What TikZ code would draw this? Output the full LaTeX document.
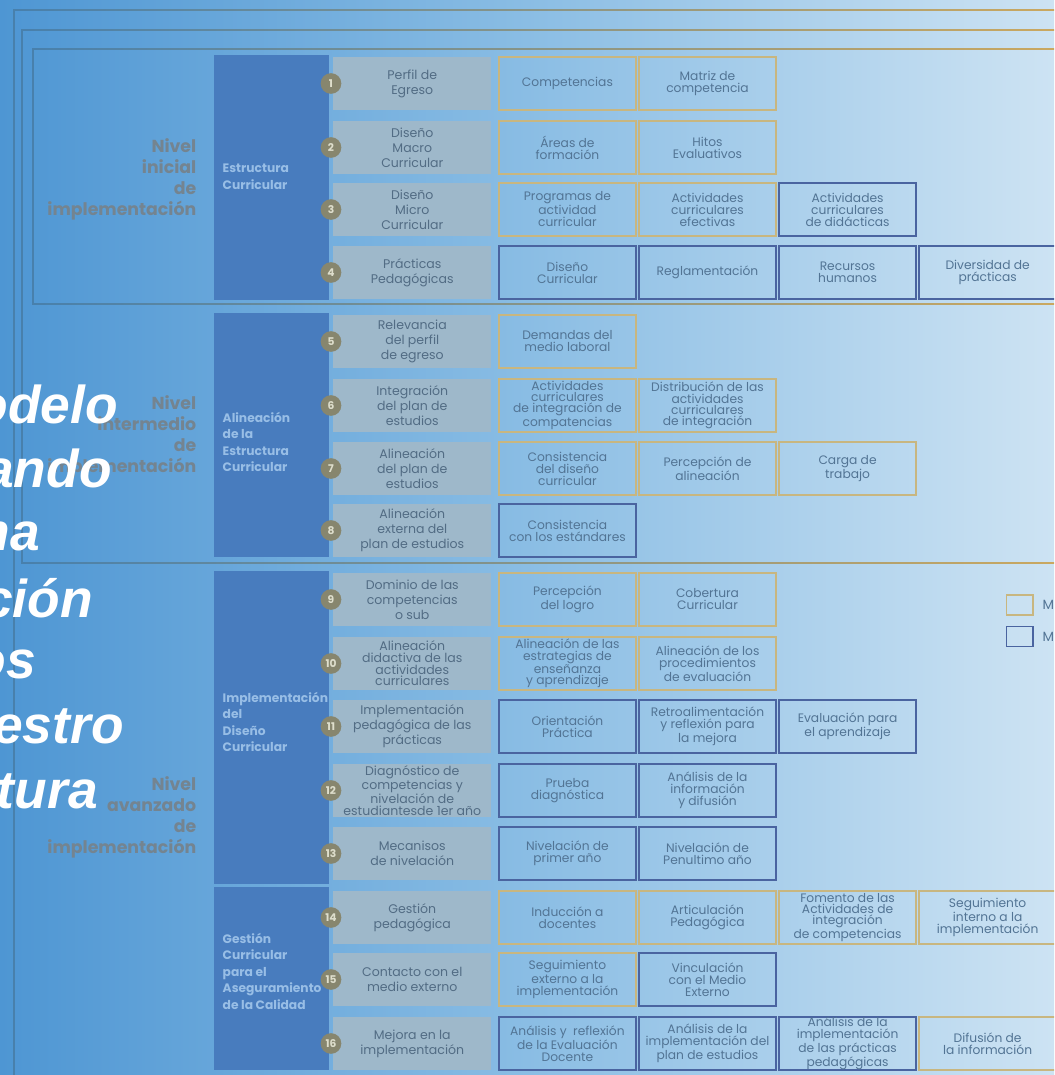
\documentclass[tikz,border=0pt]{standalone}
\usepackage{fontspec}
\setmainfont{Poppins}
\newfontfamily\titlefont{Liberation Sans}
\usetikzlibrary{positioning}
\definecolor{bgleft}{RGB}{78,150,211}
\definecolor{bgmid}{RGB}{138,189,228}
\definecolor{bgright}{RGB}{205,227,243}
\definecolor{catblue}{RGB}{72,124,190}
\definecolor{itemgray}{RGB}{158,184,202}
\definecolor{itemtext}{RGB}{82,108,132}
\definecolor{boxtext}{RGB}{82,116,148}
\definecolor{tanline}{RGB}{200,182,128}
\definecolor{blueline}{RGB}{74,100,160}
\definecolor{levelgray}{RGB}{116,132,144}
\definecolor{catlabel}{RGB}{152,190,230}
\definecolor{numfill}{RGB}{135,134,110}
\definecolor{numtext}{RGB}{222,222,204}
\definecolor{frameleft}{RGB}{72,128,172}
\definecolor{framegold}{RGB}{202,168,96}
\tikzstyle{item} = [rectangle,fill=itemgray,text=itemtext,align=center,anchor=west,minimum width=118.5pt,minimum height=39.75pt,inner sep=0pt,font=\fontsize{9.4}{11.25}\selectfont]
\tikzstyle{itemtight} = [item,font=\fontsize{9.4}{8.7}\selectfont]
\tikzstyle{numdot} = [circle,fill=numfill,text=numtext,minimum size=15.5pt,inner sep=0pt,font=\bfseries\fontsize{8}{8}\selectfont]
\tikzstyle{indbox} = [rectangle,line width=1.1pt,text=boxtext,align=center,minimum width=102.75pt,minimum height=39.75pt,inner sep=0pt,font=\fontsize{9.2}{9}\selectfont]
\tikzstyle{indtan} = [indbox,draw=tanline]
\tikzstyle{indblue} = [indbox,draw=blueline]
\tikzstyle{fourlines} = [font=\fontsize{9.2}{8.5}\selectfont]
\tikzstyle{level} = [anchor=east,align=right,text=levelgray,font=\bfseries\fontsize{13}{15.75}\selectfont]
\tikzstyle{catname} = [anchor=west,align=left,text=catlabel,font=\bfseries\fontsize{9.2}{12.4}\selectfont]
\tikzstyle{titleword} = [anchor=base east,text=white,inner sep=0pt,font=\titlefont\fontsize{40}{48}\selectfont\bfseries\itshape]
\tikzstyle{frameline} = [left color=frameleft,right color=framegold]

\begin{document}
\begin{tikzpicture}[x=0.75pt,y=-0.75pt]
  \useasboundingbox (0,0) rectangle (1054,1075);
  \clip (0,0) rectangle (1054,1075);
  \shade[left color=bgleft,right color=bgright,middle color=bgmid] (0,0) rectangle (1054,1075);
  % nested frames of the levels
  \shade[frameline] (14,9.2) rectangle (1054,10.8);
  \fill[frameleft] (13.2,9.2) rectangle (14.8,1075);
  \shade[frameline] (22,29.2) rectangle (1054,30.8);
  \fill[frameleft] (21.2,29.2) rectangle (22.8,563.8);
  \shade[frameline] (22,562.2) rectangle (1054,563.8);
  \shade[frameline] (33,48.2) rectangle (1054,49.8);
  \fill[frameleft] (32.2,48.2) rectangle (33.8,304.8);
  \shade[frameline] (33,303.2) rectangle (1054,304.8);
  % columns
  \fill[catblue] (214,55) rectangle (329,300);
  \fill[catblue] (214,313) rectangle (329,557);
  \fill[catblue] (214,571) rectangle (329,884);
  \fill[catblue] (214,887) rectangle (329,1070);
  \node[catname] (cat1) at (218,177) {Estructura\\Curricular};
  \node[catname] (cat2) at (218,442) {Alineación\\de la\\Estructura\\Curricular};
  \node[catname] (cat3) at (218,722) {Implementación\\del\\Diseño\\Curricular};
  \node[catname] (cat4) at (218,971) {Gestión\\Curricular\\para el\\Aseguramiento\\de la Calidad};
  \node[level] (lvl1) at (201,179) {Nivel\\inicial\\de\\implementación};
  \node[level] (lvl2) at (201,436) {Nivel\\intermedio\\de\\implementación};
  \node[level] (lvl3) at (201,817) {Nivel\\avanzado\\de\\implementación};

  % items
  \node[item] (i1) at (333,83.5) {Perfil de\\Egreso};
  \node[item] (i2) at (333,147.5) {Diseño\\Macro\\Curricular};
  \node[item] (i3) at (333,209.5) {Diseño\\Micro\\Curricular};
  \node[item] (i4) at (333,272.5) {Prácticas\\Pedagógicas};
  \node[item] (i5) at (333,341.5) {Relevancia\\del perfil\\de egreso};
  \node[item] (i6) at (333,405.5) {Integración\\del plan de\\estudios};
  \node[item] (i7) at (333,468.5) {Alineación\\del plan de\\estudios};
  \node[item] (i8) at (333,530.5) {Alineación\\externa del\\plan de estudios};
  \node[item] (i9) at (333,599.5) {Dominio de las\\competencias\\o sub};
  \node[itemtight] (i10) at (333,663.5) {Alineación\\didactiva de las\\actividades\\curriculares};
  \node[item] (i11) at (333,726.5) {Implementación\\pedagógica de las\\prácticas};
  \node[itemtight] (i12) at (333,790.5) {Diagnóstico de\\competencias y\\nivelación de\\estudiantesde 1er año};
  \node[item] (i13) at (333,853.5) {Mecanisos\\de nivelación};
  \node[item] (i14) at (333,917.5) {Gestión\\pedagógica};
  \node[item] (i15) at (333,979.5) {Contacto con el\\medio externo};
  \node[item] (i16) at (333,1043.5) {Mejora en la\\implementación};

  \node[numdot] (n1) at (331,83.5) {1};
  \node[numdot] (n2) at (331,147.5) {2};
  \node[numdot] (n3) at (331,209.5) {3};
  \node[numdot] (n4) at (331,272.5) {4};
  \node[numdot] (n5) at (331,341.5) {5};
  \node[numdot] (n6) at (331,405.5) {6};
  \node[numdot] (n7) at (331,468.5) {7};
  \node[numdot] (n8) at (331,530.5) {8};
  \node[numdot] (n9) at (331,599.5) {9};
  \node[numdot] (n10) at (331,663.5) {10};
  \node[numdot] (n11) at (331,726.5) {11};
  \node[numdot] (n12) at (331,790.5) {12};
  \node[numdot] (n13) at (331,853.5) {13};
  \node[numdot] (n14) at (331,917.5) {14};
  \node[numdot] (n15) at (331,979.5) {15};
  \node[numdot] (n16) at (331,1043.5) {16};

  % indicators
  \node[indtan,right=5pt of i1] (r1a) {Competencias};
  \node[indtan,right=1.2pt of r1a] (r1b) {Matriz de\\competencia};
  \node[indtan,right=5pt of i2] (r2a) {Áreas de\\formación};
  \node[indtan,right=1.2pt of r2a] (r2b) {Hitos\\Evaluativos};
  \node[indtan,right=5pt of i3] (r3a) {Programas de\\actividad\\curricular};
  \node[indtan,right=1.2pt of r3a] (r3b) {Actividades\\curriculares\\efectivas};
  \node[indblue,right=1.2pt of r3b] (r3c) {Actividades\\curriculares\\de didácticas};
  \node[indblue,right=5pt of i4] (r4a) {Diseño\\Curricular};
  \node[indblue,right=1.2pt of r4a] (r4b) {Reglamentación};
  \node[indblue,right=1.2pt of r4b] (r4c) {Recursos\\humanos};
  \node[indblue,right=1.2pt of r4c] (r4d) {Diversidad de\\prácticas};
  \node[indtan,right=5pt of i5] (r5a) {Demandas del\\medio laboral};
  \node[indtan,fourlines,right=5pt of i6] (r6a) {Actividades\\curriculares\\de integración de\\compatencias};
  \node[indtan,fourlines,right=1.2pt of r6a] (r6b) {Distribución de las\\actividades\\curriculares\\de integración};
  \node[indtan,right=5pt of i7] (r7a) {Consistencia\\del diseño\\curricular};
  \node[indtan,right=1.2pt of r7a] (r7b) {Percepción de\\alineación};
  \node[indtan,right=1.2pt of r7b] (r7c) {Carga de\\trabajo};
  \node[indblue,right=5pt of i8] (r8a) {Consistencia\\con los estándares};
  \node[indtan,right=5pt of i9] (r9a) {Percepción\\del logro};
  \node[indtan,right=1.2pt of r9a] (r9b) {Cobertura\\Curricular};
  \node[indtan,fourlines,right=5pt of i10] (r10a) {Alineación de las\\estrategias de\\enseñanza\\y aprendizaje};
  \node[indtan,right=1.2pt of r10a] (r10b) {Alineación de los\\procedimientos\\de evaluación};
  \node[indblue,right=5pt of i11] (r11a) {Orientación\\Práctica};
  \node[indblue,right=1.2pt of r11a] (r11b) {Retroalimentación\\y reflexión para\\la mejora};
  \node[indblue,right=1.2pt of r11b] (r11c) {Evaluación para\\el aprendizaje};
  \node[indblue,right=5pt of i12] (r12a) {Prueba\\diagnóstica};
  \node[indblue,right=1.2pt of r12a] (r12b) {Análisis de la\\información\\y difusión};
  \node[indblue,right=5pt of i13] (r13a) {Nivelación de\\primer año};
  \node[indblue,right=1.2pt of r13a] (r13b) {Nivelación de\\Penultimo año};
  \node[indtan,right=5pt of i14] (r14a) {Inducción a\\docentes};
  \node[indtan,right=1.2pt of r14a] (r14b) {Articulación\\Pedagógica};
  \node[indtan,fourlines,right=1.2pt of r14b] (r14c) {Fomento de las\\Actividades de\\integración\\de competencias};
  \node[indtan,right=1.2pt of r14c] (r14d) {Seguimiento\\interno a la\\implementación};
  \node[indtan,right=5pt of i15] (r15a) {Seguimiento\\externo a la\\implementación};
  \node[indblue,right=1.2pt of r15a] (r15b) {Vinculación\\con el Medio\\Externo};
  \node[indblue,right=5pt of i16] (r16a) {Análisis y\ \ reflexión\\de la Evaluación\\Docente};
  \node[indblue,right=1.2pt of r16a] (r16b) {Análisis de la\\implementación del\\plan de estudios};
  \node[indblue,fourlines,right=1.2pt of r16b] (r16c) {Análisis de la\\implementación\\de las prácticas\\pedagógicas};
  \node[indtan,right=1.2pt of r16c] (r16d) {Difusión de\\la información};

  % legend
  \node[draw=tanline,line width=1pt,minimum width=20pt,minimum height=15pt] (legtan) at (1019.5,605) {};
  \node[draw=blueline,line width=1pt,minimum width=20pt,minimum height=15pt] (legblue) at (1019.5,636.5) {};
  \node[anchor=west,text=boxtext,font=\fontsize{10}{12}\selectfont] (legtantext) at (1038,605) {M};
  \node[anchor=west,text=boxtext,font=\fontsize{10}{12}\selectfont] (legbluetext) at (1038,636.5) {M};

  % title overlay
  \node[titleword] (t1) at (118,423) {odelo};
  \node[titleword] (t2) at (112,487) {ando};
  \node[titleword] (t3) at (40,550) {na};
  \node[titleword] (t4) at (93,617) {ción};
  \node[titleword] (t5) at (36,678) {os};
  \node[titleword] (t6) at (124,743) {estro};
  \node[titleword] (t7) at (98,808) {tura};
\end{tikzpicture}
\end{document}
